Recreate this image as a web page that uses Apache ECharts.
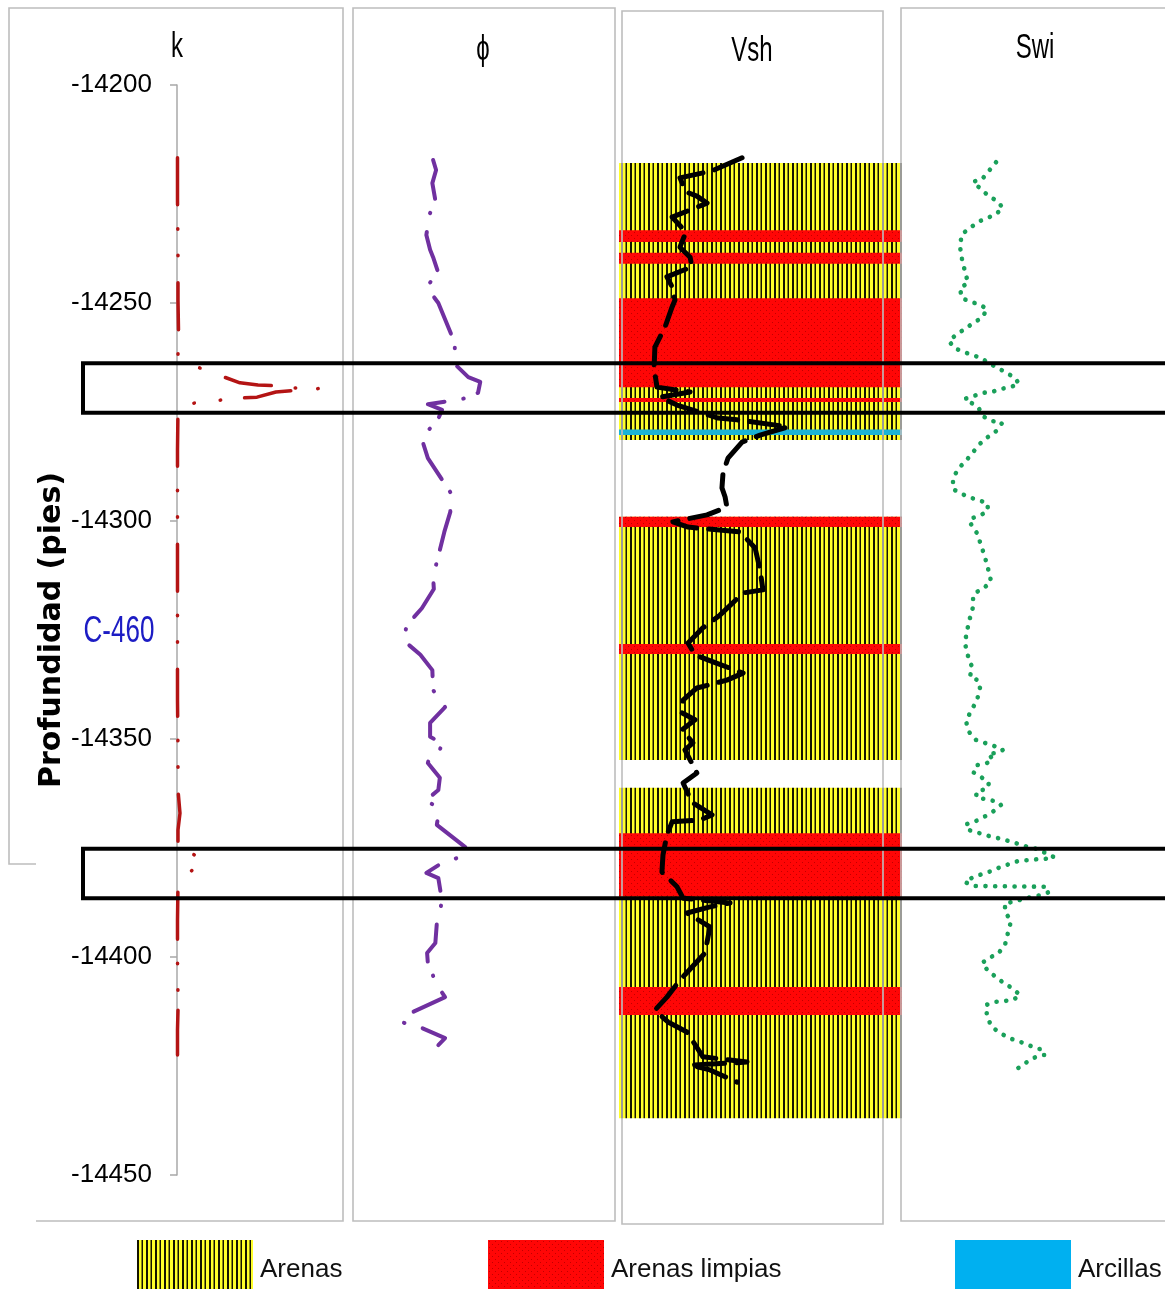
<!DOCTYPE html>
<html><head><meta charset="utf-8">
<script src="https://cdn.jsdelivr.net/npm/echarts@6/dist/echarts.min.js"></script>
<style>html,body{margin:0;padding:0;background:#fff}#c{width:1165px;height:1289px}</style>
</head><body><div id="c"></div>
<script>
// ---------- DATA ----------
const depthMin = -14450, depthMax = -14200, depthStep = 50;
const trackTitles = ['k', 'ϕ', 'Vsh', 'Swi'];
const wellName = 'C-460';
const depthAxisName = 'Profundidad (pies)';
const lithoNames = ['Arenas', 'Arenas limpias', 'Arcillas'];

// permeability k [mD, depth]
const kData = [[3,-14216.7],[3,-14226.4],[6,-14237.8],[6,-14249.3],[9,-14256.2],[6,-14261.9],[90,-14264.2],[199,-14265.8],[379,-14268.3],[488,-14268.8],[596,-14269.0],[698,-14269.5],[861,-14269.6],[738,-14270.0],[596,-14270.4],[482,-14271.6],[379,-14271.8],[289,-14272.2],[181,-14272.5],[66,-14273.2],[6,-14274.5],[3,-14283.7],[3,-14295.2],[3,-14306.7],[3,-14318.1],[3,-14329.6],[3,-14341.1],[6,-14352.5],[6,-14361.7],[18,-14367.0],[6,-14370.9],[6,-14375.0],[66,-14375.9],[145,-14377.3],[157,-14378.2],[78,-14380.5],[6,-14383.3],[3,-14391.5],[3,-14400.7],[6,-14408.7],[30,-14409.9],[54,-14410.6],[6,-14412.2],[3,-14416.7],[3,-14422.5]];

// porosity phi [fraction, depth]
const phiData = [[0.107,-14217.2],[0.111,-14219.5],[0.106,-14222.5],[0.110,-14226.4],[0.102,-14229.8],[0.098,-14234.4],[0.103,-14237.8],[0.107,-14239.5],[0.114,-14243.1],[0.098,-14246.3],[0.114,-14250.0],[0.136,-14259.2],[0.136,-14264.0],[0.154,-14267.0],[0.170,-14268.1],[0.167,-14270.6],[0.152,-14271.8],[0.128,-14272.5],[0.100,-14273.2],[0.119,-14274.5],[0.112,-14277.3],[0.091,-14280.7],[0.100,-14285.6],[0.130,-14293.4],[0.130,-14297.9],[0.122,-14302.5],[0.107,-14312.8],[0.108,-14315.6],[0.092,-14320.0],[0.072,-14323.9],[0.067,-14327.3],[0.090,-14330.7],[0.106,-14334.2],[0.107,-14338.8],[0.123,-14342.7],[0.103,-14346.3],[0.103,-14349.5],[0.119,-14350.9],[0.116,-14352.5],[0.103,-14353.7],[0.100,-14355.5],[0.116,-14358.9],[0.114,-14361.7],[0.098,-14364.0],[0.107,-14365.1],[0.114,-14367.4],[0.112,-14369.7],[0.150,-14374.8],[0.143,-14377.1],[0.119,-14378.4],[0.098,-14380.7],[0.114,-14381.9],[0.119,-14387.2],[0.112,-14392.2],[0.110,-14396.8],[0.099,-14399.1],[0.100,-14401.4],[0.112,-14406.4],[0.123,-14409.2],[0.080,-14412.6],[0.068,-14415.1],[0.092,-14416.3],[0.123,-14418.6],[0.114,-14420.2]];

// shale volume Vsh [fraction, depth]
const vshData = [[0.460,-14216.7],[0.345,-14219.7],[0.222,-14221.3],[0.245,-14224.5],[0.287,-14225.5],[0.326,-14227.1],[0.192,-14230.3],[0.245,-14233.7],[0.222,-14237.2],[0.261,-14239.5],[0.268,-14241.7],[0.172,-14244.0],[0.192,-14246.3],[0.203,-14249.3],[0.192,-14250.9],[0.165,-14255.5],[0.126,-14260.1],[0.123,-14264.9],[0.134,-14269.3],[0.261,-14270.4],[0.146,-14271.6],[0.211,-14273.4],[0.368,-14276.4],[0.441,-14276.8],[0.636,-14278.4],[0.529,-14280.3],[0.460,-14281.9],[0.406,-14285.6],[0.387,-14289.0],[0.383,-14292.4],[0.395,-14294.5],[0.402,-14296.8],[0.326,-14298.6],[0.195,-14300.2],[0.253,-14301.4],[0.452,-14302.5],[0.510,-14306.2],[0.529,-14311.2],[0.540,-14315.8],[0.464,-14316.5],[0.375,-14321.6],[0.310,-14324.5],[0.253,-14328.0],[0.280,-14330.7],[0.349,-14332.3],[0.464,-14334.9],[0.402,-14336.5],[0.287,-14338.3],[0.234,-14341.1],[0.230,-14344.0],[0.280,-14345.6],[0.230,-14347.9],[0.272,-14350.9],[0.241,-14352.5],[0.287,-14357.8],[0.234,-14360.1],[0.268,-14364.5],[0.345,-14367.4],[0.299,-14368.6],[0.192,-14369.0],[0.172,-14372.0],[0.157,-14376.6],[0.153,-14380.5],[0.211,-14383.9],[0.234,-14386.5],[0.414,-14387.6],[0.337,-14388.5],[0.249,-14389.9],[0.337,-14393.1],[0.318,-14399.1],[0.222,-14405.3],[0.172,-14409.2],[0.126,-14412.2],[0.176,-14414.9],[0.249,-14417.2],[0.310,-14422.9],[0.479,-14424.1],[0.261,-14424.8],[0.337,-14425.9],[0.441,-14428.7]];

// irreducible water saturation Swi [fraction, depth]
const swiData = [[0.360,-14217.7],[0.333,-14219.7],[0.307,-14221.6],[0.273,-14222.2],[0.303,-14223.9],[0.333,-14225.5],[0.364,-14226.6],[0.386,-14228.2],[0.356,-14229.8],[0.326,-14230.5],[0.292,-14231.4],[0.261,-14232.8],[0.231,-14234.2],[0.223,-14236.9],[0.231,-14239.9],[0.242,-14242.7],[0.254,-14245.4],[0.223,-14246.6],[0.231,-14248.9],[0.265,-14249.8],[0.295,-14250.2],[0.326,-14251.4],[0.307,-14253.4],[0.273,-14254.6],[0.242,-14256.0],[0.212,-14257.1],[0.182,-14258.7],[0.201,-14260.3],[0.235,-14261.2],[0.269,-14261.9],[0.303,-14262.6],[0.333,-14263.8],[0.367,-14264.9],[0.402,-14266.1],[0.432,-14267.2],[0.447,-14268.6],[0.413,-14269.3],[0.379,-14269.7],[0.345,-14270.4],[0.311,-14270.6],[0.277,-14271.3],[0.242,-14272.0],[0.261,-14272.7],[0.292,-14273.9],[0.314,-14276.1],[0.348,-14277.1],[0.383,-14277.5],[0.360,-14279.4],[0.330,-14280.7],[0.299,-14282.3],[0.273,-14284.2],[0.246,-14286.2],[0.220,-14287.8],[0.197,-14290.1],[0.197,-14292.7],[0.231,-14293.8],[0.265,-14294.7],[0.295,-14295.2],[0.330,-14296.1],[0.326,-14297.9],[0.292,-14298.9],[0.261,-14299.5],[0.265,-14300.7],[0.288,-14302.8],[0.303,-14305.5],[0.318,-14308.3],[0.330,-14311.0],[0.341,-14313.8],[0.314,-14315.4],[0.280,-14316.5],[0.273,-14317.2],[0.273,-14319.7],[0.261,-14322.3],[0.250,-14325.2],[0.242,-14328.0],[0.254,-14331.0],[0.269,-14333.5],[0.261,-14335.8],[0.292,-14336.5],[0.299,-14338.3],[0.288,-14341.1],[0.265,-14343.6],[0.246,-14345.9],[0.258,-14348.4],[0.284,-14350.2],[0.318,-14350.9],[0.352,-14351.6],[0.386,-14352.5],[0.364,-14353.2],[0.330,-14353.4],[0.348,-14354.6],[0.326,-14355.5],[0.288,-14356.0],[0.273,-14357.6],[0.303,-14358.7],[0.333,-14360.1],[0.326,-14361.5],[0.288,-14361.9],[0.284,-14363.3],[0.318,-14363.8],[0.352,-14364.2],[0.379,-14365.1],[0.348,-14366.7],[0.314,-14367.9],[0.284,-14368.8],[0.250,-14369.5],[0.246,-14370.6],[0.277,-14371.3],[0.311,-14371.8],[0.345,-14372.5],[0.383,-14372.9],[0.417,-14373.6],[0.447,-14374.1],[0.481,-14374.8],[0.515,-14375.2],[0.549,-14376.2],[0.580,-14377.1],[0.545,-14377.5],[0.511,-14377.6],[0.477,-14377.8],[0.443,-14378.0],[0.409,-14378.7],[0.375,-14379.4],[0.341,-14380.3],[0.307,-14381.0],[0.273,-14381.7],[0.242,-14382.8],[0.273,-14383.7],[0.549,-14383.9],[0.561,-14385.1],[0.530,-14385.8],[0.496,-14386.2],[0.462,-14386.7],[0.424,-14387.4],[0.394,-14387.6],[0.394,-14389.7],[0.417,-14391.7],[0.405,-14394.5],[0.394,-14397.2],[0.367,-14399.3],[0.333,-14400.2],[0.307,-14401.4],[0.330,-14403.2],[0.360,-14404.6],[0.390,-14406.0],[0.420,-14407.1],[0.451,-14408.7],[0.424,-14409.9],[0.390,-14410.1],[0.356,-14410.3],[0.322,-14411.0],[0.326,-14413.8],[0.345,-14416.1],[0.375,-14417.4],[0.409,-14418.6],[0.443,-14419.3],[0.477,-14420.0],[0.508,-14420.9],[0.542,-14421.3],[0.542,-14422.5],[0.511,-14422.9],[0.477,-14424.1],[0.443,-14425.5]];

// lithology intervals [top, bottom]
const arenas = [[-14217.9,-14281.4],[-14299.0,-14354.8],[-14361.2,-14437.0]];
const arenasLimpias = [[-14233.3,-14236.0],[-14238.5,-14241.0],[-14248.9,-14269.3],[-14271.8,-14272.7],[-14299.0,-14301.4],[-14328.2,-14330.5],[-14371.6,-14386.2],[-14406.9,-14413.3]];
const arcillas = [[-14279.0,-14280.3]];

// highlighted zones [top, bottom]
const zones = [[-14263.8,-14275.2],[-14375.2,-14386.5]];

// ---------- STYLE HELPERS ----------
const SANS = "'Liberation Sans',Arial,sans-serif";
function makeHatch() {
  const c = document.createElement('canvas'); c.width = 9; c.height = 4;
  const g = c.getContext('2d');
  g.fillStyle = '#FFFF2A'; g.fillRect(0, 0, 9, 4);
  g.fillStyle = '#141400'; g.fillRect(0, 0, 2, 4); g.fillRect(4.5, 0, 1.5, 4);
  return { image: c, repeat: 'repeat' };
}
function makeRed() {
  const c = document.createElement('canvas'); c.width = 6; c.height = 6;
  const g = c.getContext('2d');
  g.fillStyle = '#FF0606'; g.fillRect(0, 0, 6, 6);
  g.fillStyle = '#C00000'; g.fillRect(1, 1, 1, 1); g.fillRect(4, 4, 1, 1);
  return { image: c, repeat: 'repeat' };
}
const hatchFill = makeHatch();
const redFill = makeRed();
const clayFill = '#19B3D6';
const lithoFills = [hatchFill, redFill, clayFill];
const legendFills = [hatchFill, redFill, '#00B0F0'];

function lithoRender(fill) {
  return function (params, api) {
    const p0 = api.coord([0, api.value(0)]);
    const p1 = api.coord([1, api.value(1)]);
    return { type: 'rect', shape: { x: p0[0], y: p0[1], width: p1[0] - p0[0], height: p1[1] - p0[1] }, style: { fill: fill } };
  };
}
// zone frames run from the grid's left edge out past the right side of the figure
function zoneRender(params, api) {
  const p0 = api.coord([0, api.value(0)]);
  const p1 = api.coord([1, api.value(1)]);
  return { type: 'rect', shape: { x: p0[0], y: p0[1], width: (p1[0] - p0[0]) + 60, height: p1[1] - p0[1] },
    style: { fill: 'none', stroke: '#000', lineWidth: 4 } };
}

const G = { top: 85, height: 1090 };
const grids = [
  { left: 177, width: 166, ...G },   // k
  { left: 353, width: 262, ...G },   // phi
  { left: 619, width: 283, ...G },   // lithology
  { left: 622, width: 261, ...G },   // Vsh
  { left: 901, width: 264, ...G },   // Swi
  { left: 83, width: 1082, ...G }    // zones overlay
];
const xRanges = [[0, 1000], [0, 0.35], [0, 1], [0, 1], [0, 1], [0, 1]];
const xAxes = xRanges.map((r, i) => ({ gridIndex: i, type: 'value', min: r[0], max: r[1], show: false }));
const yAxes = grids.map((g, i) => {
  const ax = { gridIndex: i, type: 'value', min: depthMin, max: depthMax, interval: depthStep, show: i === 0, splitLine: { show: false } };
  if (i === 0) Object.assign(ax, {
    position: 'left',
    axisLine: { show: true, lineStyle: { color: '#A8A8A8', width: 1.5 } },
    axisTick: { show: true, length: 7, lineStyle: { color: '#A8A8A8', width: 1.5 } },
    axisLabel: { color: '#000', fontFamily: SANS, fontSize: 26, margin: 25, formatter: v => String(v) },
    name: depthAxisName, nameLocation: 'middle', nameRotate: 90, nameGap: 94,
    nameTextStyle: { color: '#000', fontFamily: "'DejaVu Sans',Verdana,sans-serif", fontWeight: 'bold', fontSize: 30 }
  });
  return ax;
});

const dashDotDot = [47, 24, 0.5, 26, 0.5, 27];
const dashDot = [40, 15, 0.5, 19];

const series = [
  ...[arenas, arenasLimpias, arcillas].map((d, i) => ({
    type: 'custom', name: lithoNames[i], xAxisIndex: 2, yAxisIndex: 2, z: 1,
    renderItem: lithoRender(lithoFills[i]), itemStyle: { color: legendFills[i] },
    dimensions: ['top', 'bottom'], encode: { y: [0, 1] }, data: d, silent: true
  })),
  { type: 'line', name: 'k', xAxisIndex: 0, yAxisIndex: 0, data: kData, symbol: 'none', z: 3,
    lineStyle: { color: '#B41414', width: 3.5, type: dashDotDot, cap: 'round', join: 'round' } },
  { type: 'line', name: 'phi', xAxisIndex: 1, yAxisIndex: 1, data: phiData, symbol: 'none', z: 3,
    lineStyle: { color: '#7030A0', width: 4, type: dashDot, cap: 'round', join: 'round' } },
  { type: 'line', name: 'Vsh', xAxisIndex: 3, yAxisIndex: 3, data: vshData, symbol: 'none', z: 4,
    lineStyle: { color: '#000', width: 5, type: [30, 12], cap: 'round', join: 'round' } },
  { type: 'line', name: 'Swi', xAxisIndex: 4, yAxisIndex: 4, data: swiData, symbol: 'none', z: 3,
    lineStyle: { color: '#1AA05A', width: 4.6, type: [0.1, 9.6], cap: 'round', join: 'round' } },
  { type: 'custom', name: 'zonas', xAxisIndex: 5, yAxisIndex: 5, z: 20, silent: true,
    renderItem: zoneRender, dimensions: ['top', 'bottom'], encode: { y: [0, 1] }, data: zones }
];

const frameStyle = { stroke: '#BDBDBD', fill: null, lineWidth: 1.6 };
function titleText(text, x, y) {
  return { type: 'text', x: x, y: y, scaleY: 1.45, z: 12,
    style: { text: text, fill: '#000', font: "24px " + SANS, textAlign: 'center', textVerticalAlign: 'middle' } };
}
const graphic = [
  { type: 'polyline', z: 10, shape: { points: [[36, 1221], [343, 1221], [343, 8], [9, 8], [9, 864], [36, 864]] }, style: frameStyle },
  { type: 'rect', z: 10, shape: { x: 353, y: 8, width: 262, height: 1213 }, style: frameStyle },
  { type: 'rect', z: 10, shape: { x: 622, y: 11, width: 261, height: 1213 }, style: frameStyle },
  { type: 'rect', z: 10, shape: { x: 901, y: 8, width: 300, height: 1213 }, style: frameStyle },
  titleText(trackTitles[0], 177, 47),
  titleText(trackTitles[1], 483, 50),
  titleText(trackTitles[2], 752, 51),
  titleText(trackTitles[3], 1035, 48),
  { type: 'text', x: 119, y: 632, scaleY: 1.45, z: 12,
    style: { text: wellName, fill: '#1C1CC4', font: "26px " + SANS, textAlign: 'center', textVerticalAlign: 'middle' } }
];

const legendLefts = [137, 488, 955];
const legend = lithoNames.map((n, i) => ({
  left: legendLefts[i], top: 1240, padding: 0, orient: 'horizontal', itemWidth: 116, itemHeight: 60, selectedMode: false,
  textStyle: { color: '#111', fontFamily: SANS, fontSize: 26, padding: [0, 0, 0, 2] },
  data: [{ name: n, icon: 'rect', itemStyle: { color: legendFills[i] } }]
}));

const chart = echarts.init(document.getElementById('c'), null, { renderer: 'canvas' });
chart.setOption({
  animation: false,
  backgroundColor: '#fff',
  grid: grids,
  xAxis: xAxes,
  yAxis: yAxes,
  series: series,
  legend: legend,
  graphic: graphic
});
</script>
</body></html>
